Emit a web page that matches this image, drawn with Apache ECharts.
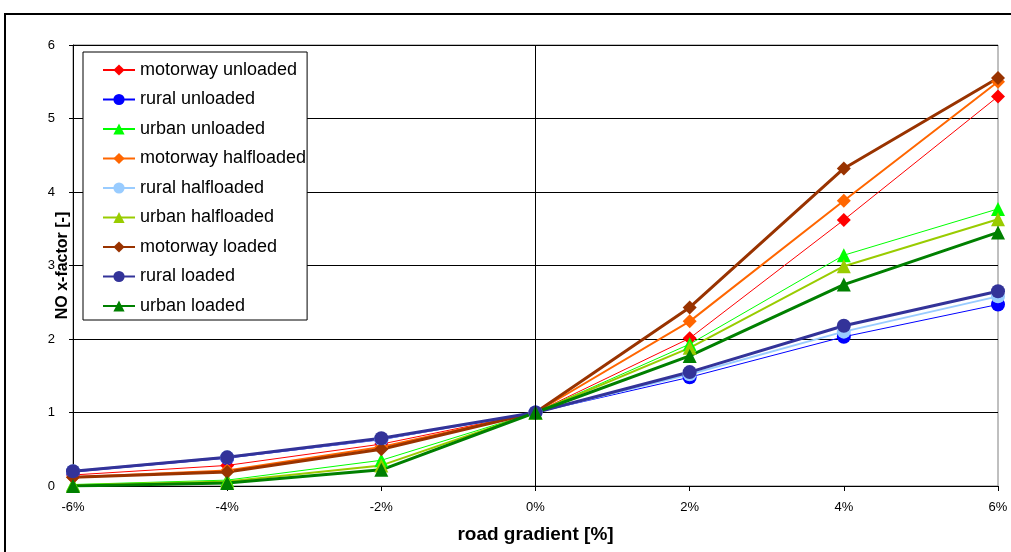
<!DOCTYPE html>
<html>
<head>
<meta charset="utf-8">
<script src="https://cdn.jsdelivr.net/npm/echarts@6/dist/echarts.min.js"></script>
<style>html,body{margin:0;padding:0;background:#fff;}#c{width:1011px;height:552px;}</style>
</head>
<body>
<div id="c"></div>
<script>
const gradients = [-6, -4, -2, 0, 2, 4, 6];
const seriesNames = ['motorway unloaded','rural unloaded','urban unloaded','motorway halfloaded','rural halfloaded','urban halfloaded','motorway loaded','rural loaded','urban loaded'];
const motorwayUnloaded = [0.15, 0.28, 0.57, 1, 2.01, 3.62, 5.30];
const ruralUnloaded = [0.19, 0.38, 0.63, 1, 1.48, 2.03, 2.47];
const urbanUnloaded = [0.02, 0.08, 0.35, 1, 1.93, 3.14, 3.77];
const motorwayHalfloaded = [0.12, 0.21, 0.53, 1, 2.24, 3.88, 5.50];
const ruralHalfloaded = [0.20, 0.39, 0.64, 1, 1.52, 2.10, 2.58];
const urbanHalfloaded = [0.01, 0.06, 0.28, 1, 1.88, 2.99, 3.63];
const motorwayLoaded = [0.12, 0.19, 0.50, 1, 2.43, 4.32, 5.55];
const ruralLoaded = [0.20, 0.39, 0.65, 1, 1.55, 2.18, 2.65];
const urbanLoaded = [0.00, 0.04, 0.22, 1, 1.77, 2.74, 3.45];
const allValues = [motorwayUnloaded, ruralUnloaded, urbanUnloaded, motorwayHalfloaded, ruralHalfloaded, urbanHalfloaded, motorwayLoaded, ruralLoaded, urbanLoaded];
const colors = ['#FF0000','#0000FF','#00FF00','#FF6600','#99CCFF','#99CC00','#993300','#333399','#008000'];
const symbols = ['diamond','circle','triangle','diamond','circle','triangle','diamond','circle','triangle'];
const widths = [1,1,1,2,2,2,3,3,3];

const chart = echarts.init(document.getElementById('c'));
const series = seriesNames.map((n, i) => {
  const s = {
    name: n, type: 'line',
    data: gradients.map((g, j) => [g, allValues[i][j]]),
    symbol: symbols[i], symbolSize: 14,
    lineStyle: {color: colors[i], width: widths[i]},
    itemStyle: {color: colors[i]},
    animation: false
  };
  if (i === 0) {
    s.markLine = {silent: true, symbol: 'none', label: {show: false},
      lineStyle: {color: '#000', width: 1, type: 'solid'}, data: [{xAxis: 0}], animation: false};
  }
  return s;
});

chart.setOption({
  animation: false,
  graphic: [{type: 'rect', shape: {x: 5, y: 14, width: 1100, height: 600},
    style: {fill: 'none', stroke: '#000', lineWidth: 2}, z: -1}],
  grid: {left: 73, right: 13, top: 45, bottom: 66, show: true, borderColor: '#808080', borderWidth: 1},
  legend: {
    orient: 'vertical', left: 83, top: 52, itemWidth: 32, itemHeight: 14, itemGap: 11.5,
    backgroundColor: '#fff', borderColor: '#000', borderWidth: 1, padding: [9, 1, 5, 19],
    textStyle: {fontFamily: 'Liberation Sans', fontSize: 18, color: '#000'},
    data: seriesNames
  },
  xAxis: {
    type: 'value', min: -6, max: 6, interval: 2,
    name: 'road gradient [%]', nameLocation: 'middle', nameGap: 39,
    nameTextStyle: {fontFamily: 'Liberation Sans', fontSize: 19, fontWeight: 'bold', color: '#000'},
    axisLine: {onZero: false, lineStyle: {color: '#000'}},
    axisTick: {show: true, length: 5, lineStyle: {color: '#000'}},
    axisLabel: {fontFamily: 'Liberation Sans', fontSize: 13, color: '#000', margin: 15, formatter: v => v + '%'},
    splitLine: {show: false}
  },
  yAxis: {
    type: 'value', min: 0, max: 6, interval: 1,
    name: 'NO x-factor [-]', nameLocation: 'middle', nameGap: 2, nameRotate: 90, nameMoveOverlap: false,
    nameTextStyle: {fontFamily: 'Liberation Sans', fontSize: 16, fontWeight: 'bold', color: '#000'},
    axisLine: {show: true, onZero: false, lineStyle: {color: '#000'}},
    axisTick: {show: true, length: 4, lineStyle: {color: '#000'}},
    axisLabel: {fontFamily: 'Liberation Sans', fontSize: 13, color: '#000', margin: 18},
    splitLine: {show: true, lineStyle: {color: '#000', width: 1}}
  },
  series: series
});
</script>
</body>
</html>
